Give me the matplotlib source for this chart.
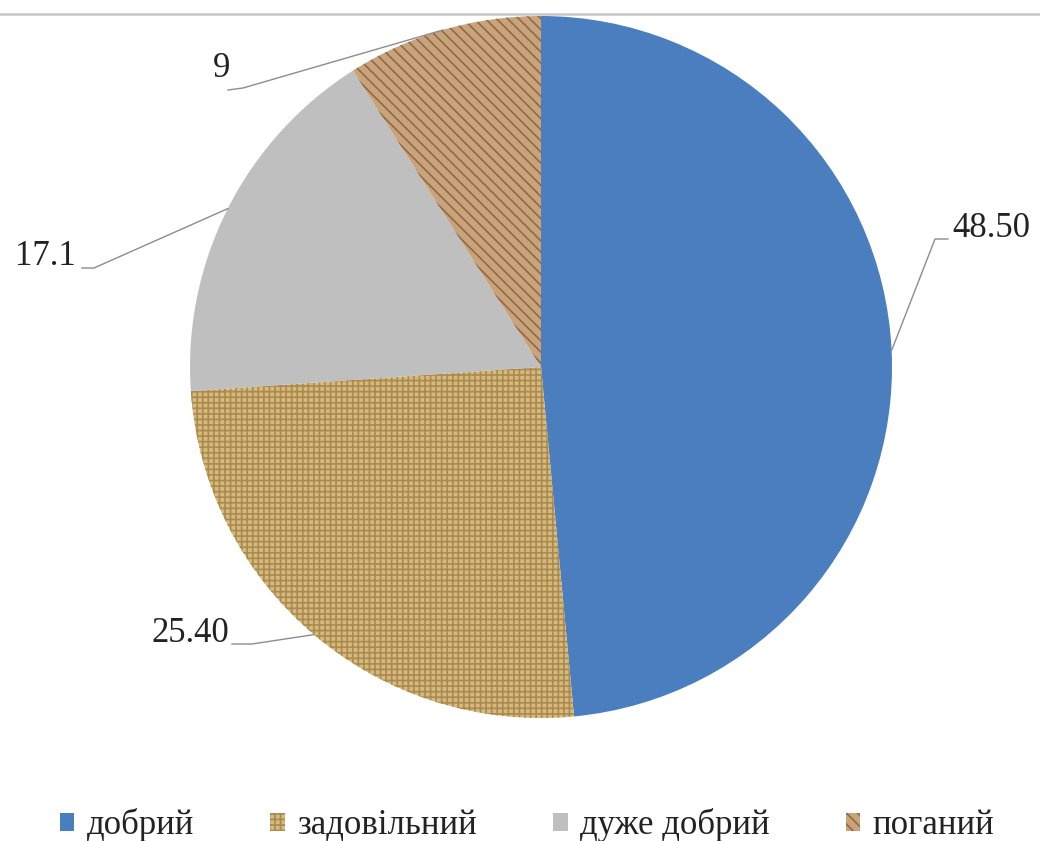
import numpy as np
import matplotlib.pyplot as plt
from matplotlib.lines import Line2D

plt.rcParams['font.family'] = ['Liberation Serif', 'DejaVu Serif']
plt.rcParams['hatch.linewidth'] = 1.2

categories = ['добрий', 'задовільний', 'дуже добрий', 'поганий']
values = [48.50, 25.40, 17.1, 9]
value_labels = ['48.50', '25.40', '17.1', '9']

face_colors = ['#4a7ebf', '#d6b97b', '#bfbfbf', '#c9a37b']
hatch_colors = ['#4a7ebf', '#a98a50', '#bfbfbf', '#916a43']
hatches = [None, '+++', None, '\\\\\\']

W, H = 1040, 841
cx, cy, r = 541, H - 367, 351

fig = plt.figure(figsize=(W / 100, H / 100), dpi=100)
ax = fig.add_axes([0, 0, 1, 1])

wedges, _ = ax.pie(values, colors=face_colors, startangle=90, counterclock=False,
                   radius=r, center=(cx, cy), wedgeprops=dict(linewidth=0))
for w, hc, h in zip(wedges, hatch_colors, hatches):
    w.set_edgecolor(hc)
    w.set_linewidth(0)
    if h:
        w.set_hatch(h)

ax.set_xlim(0, W)
ax.set_ylim(0, H)
ax.set_aspect('equal')
ax.axis('off')

# thin rule across the top
ax.add_line(Line2D([0, W], [H - 14, H - 14], color='#c6c6c6', lw=1.8))

# leader lines: (text x, text y, ha, elbow start, elbow end) in pixels from top-left
label_layout = [
    (952, 228, 'left', (948, 239), (935, 239)),
    (229, 633, 'right', (232, 644), (252, 644)),
    (15, 256, 'left', (82, 268), (94, 268)),
    (213, 68, 'left', (228, 90), (243, 88)),
]

for w, txt, (tx, ty, ha, p0, p1) in zip(wedges, value_labels, label_layout):
    mid = np.deg2rad((w.theta1 + w.theta2) / 2)
    ax_x = cx + r * np.cos(mid)
    ax_y = cy + r * np.sin(mid)
    ax.plot([p0[0], p1[0], ax_x], [H - p0[1], H - p1[1], ax_y],
            color='#8c8c8c', lw=1.0, zorder=3)
    ax.text(tx, H - ty, txt, ha=ha, va='center', fontsize=25, color='#222222')

fig.legend(wedges, categories, loc='center', bbox_to_anchor=(527 / W, 1 - 825 / H),
           ncol=4, frameon=False, handlelength=0.42, handleheight=0.42,
           handletextpad=0.35, columnspacing=2.2, fontsize=25,
           labelcolor='#222222')

fig.savefig('out.png', dpi=100)
